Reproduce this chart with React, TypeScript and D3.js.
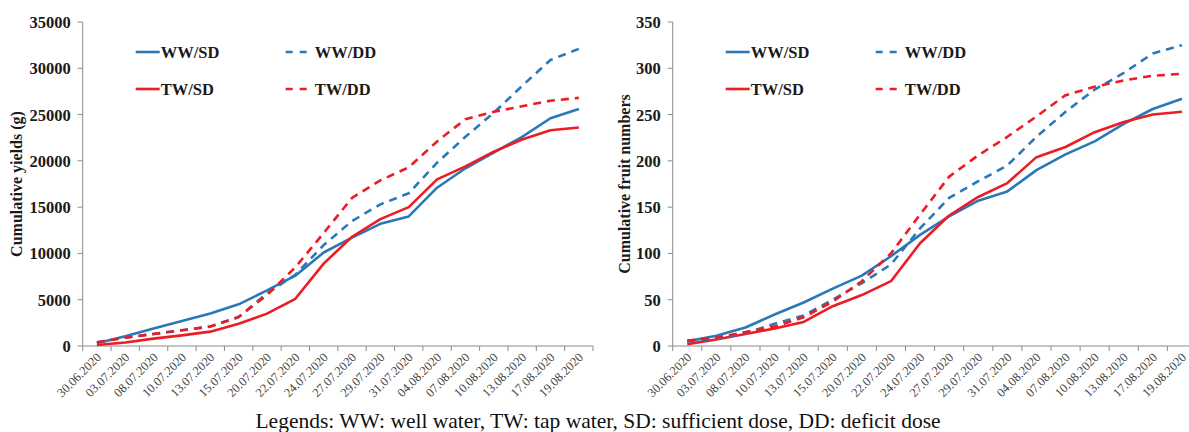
import { scaleBand, scaleLinear, line } from "d3";

const dates = [
  "30.06.2020", "03.07.2020", "08.07.2020", "10.07.2020", "13.07.2020",
  "15.07.2020", "20.07.2020", "22.07.2020", "24.07.2020", "27.07.2020",
  "29.07.2020", "31.07.2020", "04.08.2020", "07.08.2020", "10.08.2020",
  "13.08.2020", "17.08.2020", "19.08.2020",
];

// cumulative yields (g)
const yieldWWSD = [300, 1050, 1900, 2700, 3500, 4500, 6000, 7600, 10100, 11700, 13200, 14000, 17100, 19200, 20900, 22600, 24600, 25600];
const yieldWWDD = [400, 900, 1300, 1700, 2100, 3100, 5700, 7700, 10900, 13500, 15300, 16500, 19800, 22600, 25200, 28100, 30900, 32100];
const yieldTWSD = [100, 380, 800, 1150, 1550, 2400, 3500, 5100, 8900, 11800, 13700, 15000, 18000, 19400, 21000, 22300, 23300, 23600];
const yieldTWDD = [400, 900, 1300, 1700, 2100, 3150, 5500, 8500, 12200, 16000, 17900, 19300, 22100, 24500, 25300, 25900, 26500, 26800];
const yieldTicks = [0, 5000, 10000, 15000, 20000, 25000, 30000, 35000];

// cumulative fruit numbers
const fruitWWSD = [5, 11, 20, 34, 47, 62, 76, 97, 120, 140, 157, 167, 190, 207, 221, 240, 256, 267];
const fruitWWDD = [5, 8, 14, 24, 33, 50, 68, 88, 127, 160, 178, 195, 226, 253, 277, 295, 316, 325];
const fruitTWSD = [2, 7, 13, 19, 26, 43, 55, 70, 111, 141, 161, 176, 204, 215, 231, 242, 250, 253];
const fruitTWDD = [6, 9, 15, 21, 31, 48, 70, 100, 142, 183, 206, 226, 248, 271, 280, 287, 292, 294];
const fruitTicks = [0, 50, 100, 150, 200, 250, 300, 350];

const BLUE = "#2b78b8";
const RED = "#ec1c24";
const AXIS = "#8c8c8c";
const SERIF = '"Liberation Serif", "Times New Roman", serif';

const top = 22;
const bottom = 346;

type PanelProps = {
  x0: number;
  step: number;
  max: number;
  ticks: number[];
  title: string;
  titleX: number;
  ww: number[];
  wwdd: number[];
  tw: number[];
  twdd: number[];
};

function Panel({ x0, step, max, ticks, title, titleX, ww, wwdd, tw, twdd }: PanelProps) {
  const x = scaleBand<string>()
    .domain(dates)
    .range([x0, x0 + step * dates.length])
    .padding(0);
  const y = scaleLinear().domain([0, max]).range([bottom, top]);
  const bw = x.bandwidth();
  const path = line<number>()
    .x((_, i) => (x(dates[i]) as number) + bw / 2)
    .y((d) => y(d));

  const series = [
    { name: "WW/SD", data: ww, color: BLUE, dash: undefined },
    { name: "TW/SD", data: tw, color: RED, dash: undefined },
    { name: "WW/DD", data: wwdd, color: BLUE, dash: "8,6" },
    { name: "TW/DD", data: twdd, color: RED, dash: "8,6" },
  ];

  const legend = [
    { name: "WW/SD", color: BLUE, dash: undefined, lx: x0 + 53, ly: 52 },
    { name: "WW/DD", color: BLUE, dash: "7,7", lx: x0 + 207, ly: 52 },
    { name: "TW/SD", color: RED, dash: undefined, lx: x0 + 53, ly: 89 },
    { name: "TW/DD", color: RED, dash: "7,7", lx: x0 + 207, ly: 89 },
  ];

  const x1 = x0 + step * dates.length;

  return (
    <g>
      <line x1={x0} x2={x0} y1={top} y2={bottom} stroke={AXIS} strokeWidth={1} />
      <line x1={x0} x2={x1} y1={bottom} y2={bottom} stroke={AXIS} strokeWidth={1} />
      {ticks.map((t) => (
        <g key={t}>
          <line x1={x0 - 5} x2={x0} y1={y(t)} y2={y(t)} stroke={AXIS} />
          <text
            x={x0 - 12}
            y={y(t)}
            dy="0.36em"
            textAnchor="end"
            fontSize={16.5}
            fontWeight={700}
            fill="#1a1a1a"
          >
            {t}
          </text>
        </g>
      ))}
      {dates.map((d) => (
        <line
          key={"t" + d}
          x1={x(d) as number}
          x2={x(d) as number}
          y1={bottom}
          y2={bottom + 5}
          stroke={AXIS}
        />
      ))}
      <line x1={x1} x2={x1} y1={bottom} y2={bottom + 5} stroke={AXIS} />
      {dates.map((d) => {
        const cx = (x(d) as number) + bw / 2 + 5;
        const cy = bottom + 12;
        return (
          <text
            key={"l" + d}
            transform={`translate(${cx},${cy}) rotate(-45)`}
            textAnchor="end"
            fontSize={12.5}
            fill="#404040"
          >
            {d}
          </text>
        );
      })}
      <text
        transform={`translate(${titleX},${(top + bottom) / 2}) rotate(-90)`}
        textAnchor="middle"
        fontSize={16}
        fontWeight={700}
        fill="#1a1a1a"
      >
        {title}
      </text>
      {series.map((s) => (
        <path
          key={s.name}
          d={path(s.data) as string}
          fill="none"
          stroke={s.color}
          strokeWidth={2.6}
          strokeDasharray={s.dash}
          strokeLinejoin="round"
        />
      ))}
      {legend.map((l) => (
        <g key={"lg" + l.name}>
          <line
            x1={l.dash ? l.lx - 4 : l.lx}
            x2={l.lx + 24}
            y1={l.ly}
            y2={l.ly}
            stroke={l.color}
            strokeWidth={2.6}
            strokeDasharray={l.dash}
          />
          <text
            x={l.lx + 25}
            y={l.ly}
            dy="0.36em"
            fontSize={16.5}
            fontWeight={700}
            fill="#1a1a1a"
          >
            {l.name}
          </text>
        </g>
      ))}
    </g>
  );
}

export default function App() {
  return (
    <div style={{ position: "absolute", left: 0, top: 0 }}>
      <svg width={1189} height={432} fontFamily={SERIF} style={{ display: "block", background: "#fff" }}>
        <Panel
          x0={82.7}
          step={28.35}
          max={35000}
          ticks={yieldTicks}
          title="Cumulative yields (g)"
          titleX={22}
          ww={yieldWWSD}
          wwdd={yieldWWDD}
          tw={yieldTWSD}
          twdd={yieldTWDD}
        />
        <Panel
          x0={672.7}
          step={29.1}
          max={350}
          ticks={fruitTicks}
          title="Cumulative fruit numbers"
          titleX={630}
          ww={fruitWWSD}
          wwdd={fruitWWDD}
          tw={fruitTWSD}
          twdd={fruitTWDD}
        />
        <text x={598} y={428} textAnchor="middle" fontSize={21.5} fill="#111">
          Legends: WW: well water, TW: tap water, SD: sufficient dose, DD: deficit dose
        </text>
      </svg>
    </div>
  );
}
